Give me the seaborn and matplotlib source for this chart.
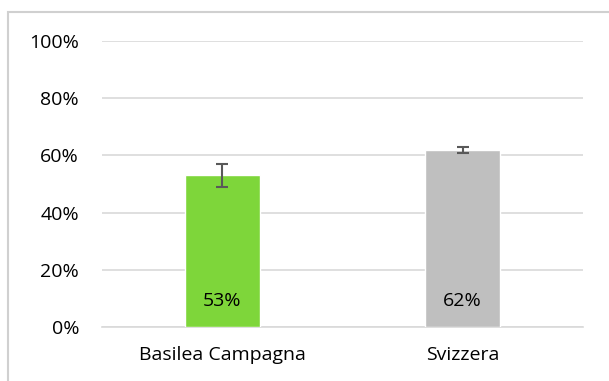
import pandas as pd
import seaborn as sns
import matplotlib.pyplot as plt
from matplotlib.patches import Rectangle
from matplotlib.ticker import PercentFormatter

categories = ["Basilea Campagna", "Svizzera"]
values = [0.53, 0.62]
errors = [0.04, 0.01]
bar_colors = ["#7ED63A", "#BFBFBF"]
y_ticks = [0, 0.2, 0.4, 0.6, 0.8, 1.0]

sns.set_theme(style="white")
plt.rcParams['font.family'] = ['Open Sans', 'DejaVu Sans']

fig = plt.figure(figsize=(6.09, 3.81), dpi=100)
ax = fig.add_axes([102 / 609, 1 - 327 / 381, 481 / 609, (327 - 41) / 381])

# outer chart frame (only top and left edges visible)
fig.patches.append(Rectangle((8 / 609, -0.1), 1.2, 1 - 12 / 381 + 0.1,
                             transform=fig.transFigure, fill=False,
                             edgecolor="#D0D0D0", linewidth=1.5))

df = pd.DataFrame({"cat": categories, "val": values})
sns.barplot(data=df, x="cat", y="val", hue="cat", palette=bar_colors,
            width=0.31, saturation=1, legend=False, ax=ax, errorbar=None, zorder=3)
ax.errorbar(range(len(categories)), values, yerr=errors, fmt="none",
            ecolor="#595959", elinewidth=1.5, capsize=4.5, capthick=1.5, zorder=4)

for i, v in enumerate(values):
    ax.text(i, 0.09, f"{round(v * 100)}%", ha="center", va="center",
            fontsize=14, color="black", zorder=5)

ax.set_xlim(-0.5, 1.5)
ax.set_ylim(0, 1)
ax.set_yticks(y_ticks)
ax.yaxis.set_major_formatter(PercentFormatter(1.0, decimals=0))
ax.grid(axis="y", color="#D9D9D9", linewidth=1.2, zorder=0)
ax.set_axisbelow(True)
for s in ["top", "right", "left"]:
    ax.spines[s].set_visible(False)
ax.spines["bottom"].set_color("#D9D9D9")
ax.spines["bottom"].set_linewidth(1.2)
ax.tick_params(axis="both", length=0, labelsize=14, colors="black")
ax.tick_params(axis="y", pad=16.5)
ax.tick_params(axis="x", pad=14)
ax.set_xlabel("")
ax.set_ylabel("")

fig.savefig("out.png", dpi=100)
